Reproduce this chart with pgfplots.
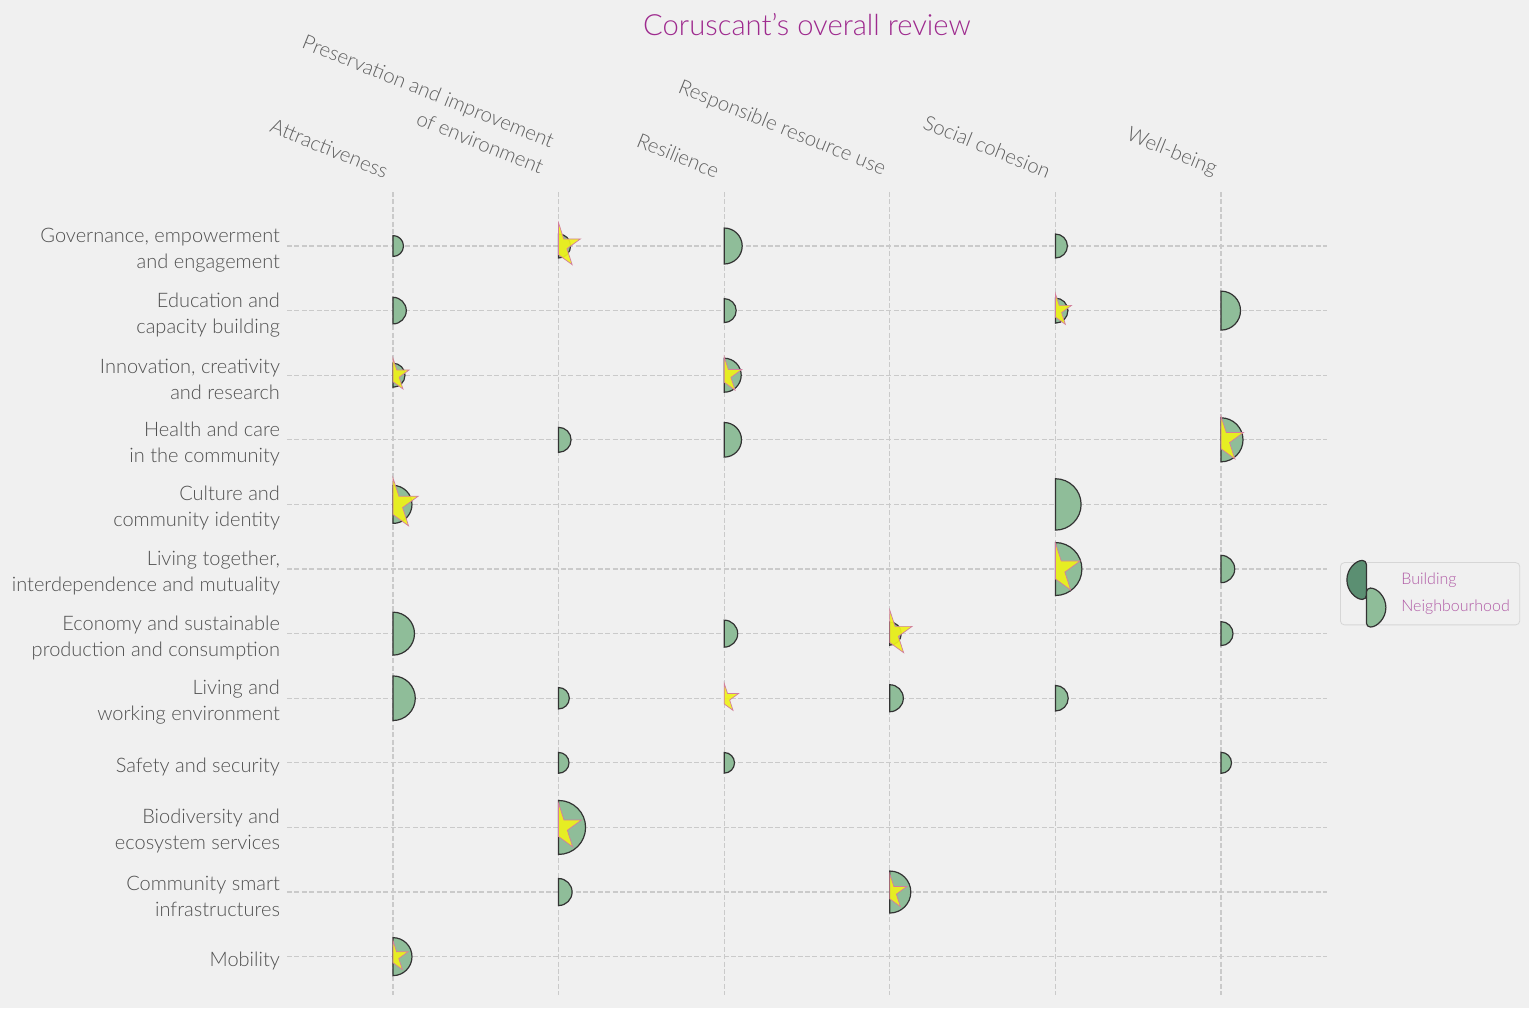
\documentclass[border=0pt]{standalone}
\usepackage{fontspec}
\IfFontExistsTF{Lato Light}{\setmainfont{Lato Light}}{\setmainfont{Lato}}
\usepackage{pgfplots}
\pgfplotsset{compat=1.18}
\usepackage{pgfplotstable}

\definecolor{bg}{HTML}{F0F0F0}
\definecolor{gridc}{HTML}{CACACA}
\definecolor{neighc}{HTML}{8FBD99}
\definecolor{buildc}{HTML}{5B8F72}
\definecolor{edgec}{HTML}{333333}
\definecolor{starfill}{HTML}{EEF21A}
\definecolor{staredge}{HTML}{D27E9E}
\definecolor{titlec}{HTML}{9E2A8E}
\definecolor{legtext}{HTML}{B05AA5}
\definecolor{legframe}{HTML}{D6D6D6}
\definecolor{rowtext}{HTML}{505050}
\definecolor{coltext}{HTML}{606060}

\pgfdeclareplotmark{halfright}{%
  \pgfpathmoveto{\pgfqpoint{0pt}{\pgfplotmarksize}}%
  \pgfpatharc{90}{-90}{\pgfplotmarksize}%
  \pgfpathclose
  \pgfusepathqfillstroke}
\pgfdeclareplotmark{halfstar}{%
  \pgfpathmoveto{\pgfqpoint{0pt}{\pgfplotmarksize}}%
  \pgfpathlineto{\pgfpointpolar{54}{0.381966\pgfplotmarksize}}%
  \pgfpathlineto{\pgfpointpolar{18}{\pgfplotmarksize}}%
  \pgfpathlineto{\pgfpointpolar{-18}{0.381966\pgfplotmarksize}}%
  \pgfpathlineto{\pgfpointpolar{-54}{\pgfplotmarksize}}%
  \pgfpathlineto{\pgfqpoint{0pt}{-0.381966\pgfplotmarksize}}%
  \pgfpathclose
  \pgfusepathqfillstroke}

% circle radius r in px (1px = 0.5pt)
\pgfplotstableread{
x y r
0 0 10.5
1 0 12
2 0 18
4 0 12
0 1 13.3
2 1 12
4 1 12.5
5 1 19.5
0 2 12
2 2 17
1 3 12.5
2 3 17.3
5 3 22
0 4 19
4 4 25.7
4 5 26.5
5 5 13.7
0 6 21.5
2 6 13.5
3 6 11.5
5 6 12
0 7 22.3
1 7 10.7
3 7 13.5
4 7 12.8
1 8 10.4
2 8 10.3
5 8 10.5
1 9 27
1 10 13.5
3 10 21
0 11 19
}\neighb

\pgfplotstableread{
x y r
1 0 23
4 1 17
0 2 17
2 2 18.5
5 3 23.5
0 4 26.5
4 5 26
3 6 23.5
2 7 15
1 9 24
3 10 18
0 11 16
}\stars

\begin{document}
\begin{tikzpicture}
\useasboundingbox (0,0) rectangle (764.5pt,504pt);
\fill[bg] (0,0) rectangle (764.5pt,504pt);
\begin{axis}[
  at={(143.5pt,6.5pt)}, anchor=south west,
  scale only axis, width=520pt, height=401.5pt,
  xmin=-0.64, xmax=5.64,
  ymin=-0.836, ymax=11.594, y dir=reverse,
  axis line style={draw=none},
  major tick length=0pt,
  xtick={0,...,5}, ytick={0,...,11},
  xticklabel pos=upper,
  xticklabels={Attractiveness,{Preservation and improvement\hspace*{5.5pt}\\of environment\hspace*{5.5pt}},Resilience,Responsible resource use,Social cohesion,Well-being},
  yticklabels={{Governance, empowerment\\and engagement},{Education and\\capacity building},{Innovation, creativity\\and research},{Health and care\\in the community},{Culture and\\community identity},{Living together,\\interdependence and mutuality},{Economy and sustainable\\production and consumption},{Living and\\working environment},Safety and security,{Biodiversity and\ \\ecosystem services},{Community smart\\infrastructures},Mobility},
  xticklabel style={rotate=-22, anchor=south east, align=right, font=\fontsize{10.2}{14}\selectfont, text=coltext, xshift=-3pt, yshift=1pt},
  yticklabel style={align=right, font=\fontsize{10}{13}\selectfont, text=rowtext, yshift=-2pt},
  grid=major,
  major grid style={draw=gridc, line width=0.6pt, dash pattern=on 2.5pt off 1.2pt},
  clip=false,
  legend cell align=left,
  legend style={at={(1.0125,0.539)}, anchor=north west, draw=legframe, fill=bg, rounded corners=2pt,
    font=\fontsize{8}{10}\selectfont, text=legtext, inner sep=3pt, row sep=2.5pt,
    /tikz/every odd column/.append style={column sep=5.5pt}},
]
\addlegendimage{legend image code/.code={%
  \path[draw=none, fill=none] (-10pt,-3pt) rectangle (10pt,3pt);
  \draw[overlay, draw=edgec, fill=buildc, line width=0.6pt] (0pt,9.75pt) arc[start angle=90, end angle=270, radius=9.75pt] -- cycle;}}
\addlegendentry{Building}

\addplot[scatter, only marks, mark=halfright,
  point meta=\thisrow{r},
  scatter/use mapped color={draw=edgec, fill=neighc},
  mark options={line width=0.6pt},
  visualization depends on={0.5*\thisrow{r} \as \rr},
  scatter/@pre marker code/.append style={/tikz/mark size=\rr},
  legend image code/.code={%
  \path[draw=none, fill=none] (-10pt,-3pt) rectangle (10pt,3pt);
  \draw[overlay, draw=edgec, fill=neighc, line width=0.6pt] (0pt,9.75pt) arc[start angle=90, end angle=-90, radius=9.75pt] -- cycle;}
  ] table[x=x, y=y] {\neighb};
\addlegendentry{Neighbourhood}

\addplot[forget plot, scatter, only marks, mark=halfstar,
  point meta=\thisrow{r},
  scatter/use mapped color={draw=staredge, fill=starfill},
  mark options={line width=0.35pt, fill opacity=0.92},
  visualization depends on={0.5*\thisrow{r} \as \rr},
  scatter/@pre marker code/.append style={/tikz/mark size=\rr}
  ] table[x=x, y=y] {\stars};

\node[font=\fontsize{14.6}{16}\selectfont, text=titlec] at (axis description cs:0.5,1.209) {Coruscant's overall review};
\end{axis}
\end{tikzpicture}
\end{document}
